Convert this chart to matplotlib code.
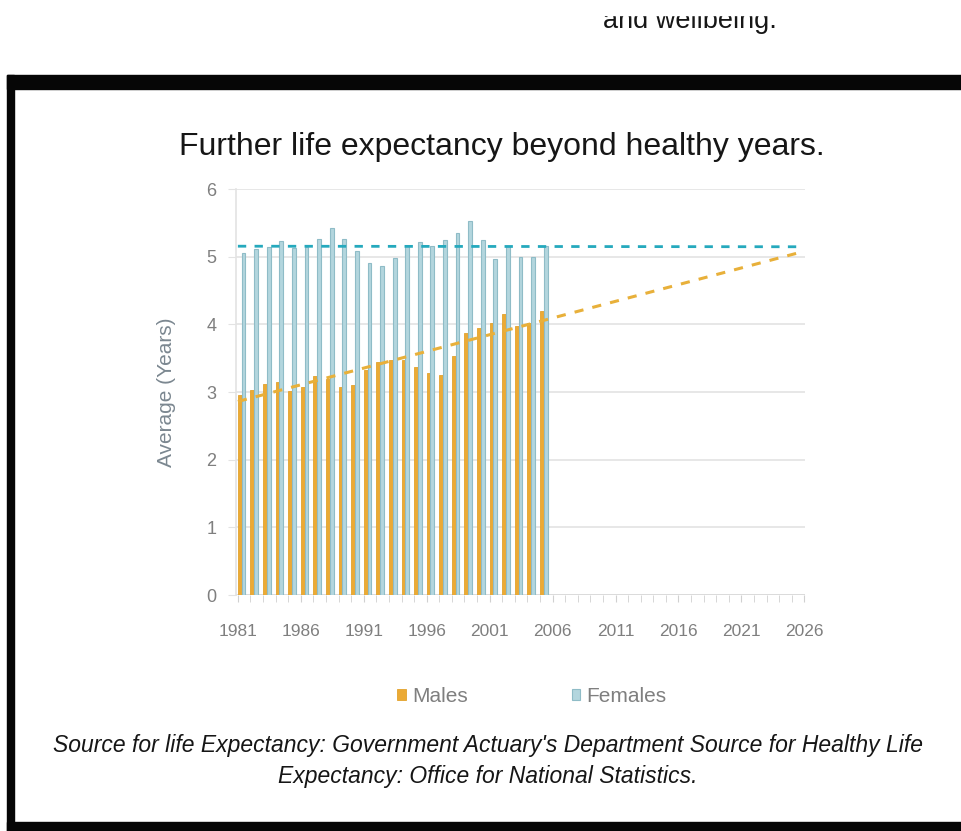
import numpy as np
from matplotlib import pyplot as plt
from matplotlib.patches import Rectangle

years = [1981, 1982, 1983, 1984, 1985, 1986, 1987, 1988, 1989, 1990,
         1991, 1992, 1993, 1994, 1995, 1996, 1997, 1998, 1999, 2000,
         2001, 2002, 2003, 2004, 2005]
males = [2.96, 3.03, 3.12, 3.15, 3.02, 3.08, 3.24, 3.19, 3.07, 3.11,
         3.33, 3.45, 3.47, 3.47, 3.37, 3.28, 3.25, 3.53, 3.87, 3.95,
         4.02, 4.16, 3.97, 4.02, 4.19]
females = [5.05, 5.11, 5.15, 5.23, 5.13, 5.15, 5.26, 5.42, 5.26, 5.09,
           4.91, 4.86, 4.98, 5.16, 5.22, 5.16, 5.25, 5.35, 5.53, 5.25,
           4.97, 5.16, 5.00, 5.00, 5.16]
tick_years = [1981, 1986, 1991, 1996, 2001, 2006, 2011, 2016, 2021, 2026]
trend_end = 2026

plt.rcParams['font.family'] = ['Liberation Sans', 'DejaVu Sans']

W, H = 961, 831
fig = plt.figure(figsize=(W / 100, H / 100), dpi=100)


def band(x0, y0, x1, y1):
    # black frame piece, given in pixels from the top-left corner
    fig.patches.append(Rectangle((x0 / W, 1 - y1 / H), (x1 - x0) / W, (y1 - y0) / H,
                                 transform=fig.transFigure, color='#060606', zorder=0))


band(7, 75, W, 89)
band(7, 75, 14, H)
band(7, 822, W, H)

ax = fig.add_axes([236 / W, 1 - 595 / H, (805 - 236) / W, (595 - 189) / H])

x = np.array(years, dtype=float)
w = 0.3
ax.bar(x, males, width=w, align='edge', color='#ebaa35', edgecolor='#e3a22c', linewidth=0.6,
       label='Males', zorder=3)
ax.bar(x + w, females, width=w, align='edge', color='#b3d6de', edgecolor='#8fbcc7', linewidth=0.8,
       label='Females', zorder=3)

xt = np.array([years[0], trend_end], dtype=float)
pm = np.polyfit(x, males, 1)
pf = np.polyfit(x, females, 1)
ax.plot(xt, np.polyval(pm, xt), color='#e8b03a', linestyle=(0, (3, 3)), linewidth=2.2, zorder=4)
ax.plot(xt, np.polyval(pf, xt), color='#25a9bd', linestyle=(0, (3, 3)), linewidth=2.0, zorder=4)

ax.set_xlim(1980.85, 2026.05)
ax.set_ylim(0, 6)
ax.set_xticks(tick_years)
ax.set_xticks(np.arange(1981, 2027), minor=True)
ax.set_yticks(range(7))
ax.grid(axis='y', color='#e3e3e3', linewidth=1.2, zorder=0)
for s in ['top', 'right', 'bottom']:
    ax.spines[s].set_visible(False)
ax.spines['left'].set_color('#e3e3e3')
ax.spines['left'].set_linewidth(1.2)
ax.axhline(0, color='#d9d9d9', linewidth=1.2, zorder=2)
ax.tick_params(axis='x', which='both', colors='#d0d0d0', length=5, labelcolor='#7f7f7f',
               labelsize=12.5, pad=16)
ax.tick_params(axis='y', colors='#e3e3e3', length=6, labelcolor='#7f7f7f', labelsize=13, pad=8)
ax.set_ylabel('Average (Years)', color='#7b8790', fontsize=15, labelpad=22)

ax.legend(loc='center', bbox_to_anchor=(0.52, -0.25), ncol=2, frameon=False,
          fontsize=15, labelcolor='#7f7f7f', handlelength=0.4, handleheight=0.4,
          handletextpad=0.3, columnspacing=5)

fig.text(0.522, 1 - 147 / H, 'Further life expectancy beyond healthy years.', ha='center', va='center',
         fontsize=23, color='#161616')
fig.text(0.508, 1 - 761 / H,
         "Source for life Expectancy: Government Actuary's Department Source for Healthy Life\n"
         "Expectancy: Office for National Statistics.",
         ha='center', va='center', fontsize=16.5, style='italic', color='#161616', linespacing=1.45)

fig.text(690 / W, 1 - 28 / H, 'and wellbeing.', ha='center', va='baseline', fontsize=19.5,
         color='#161616')
fig.patches.append(Rectangle((0, 1 - 15 / H), 1, 15 / H, transform=fig.transFigure,
                             color='white', zorder=5))

fig.savefig('out.png', dpi=100)
